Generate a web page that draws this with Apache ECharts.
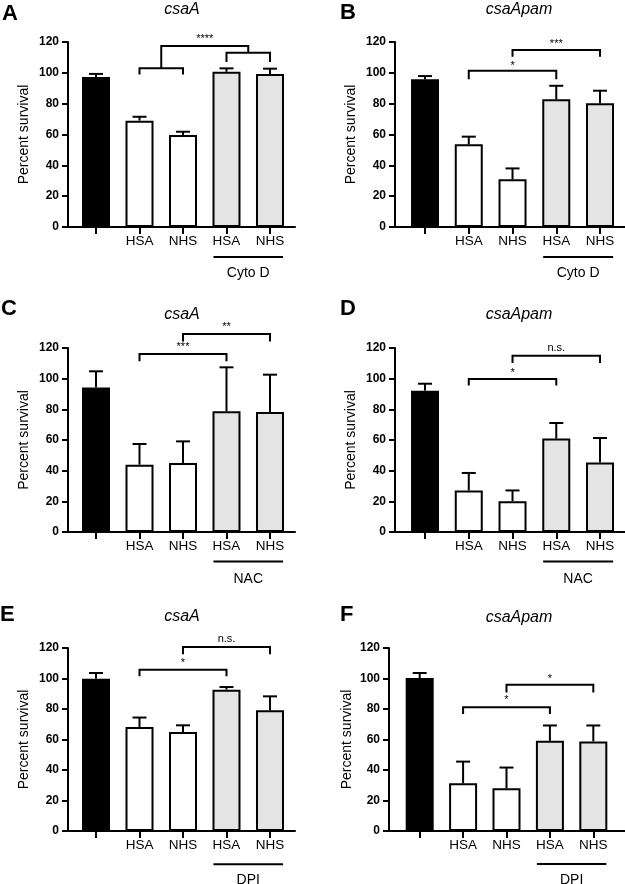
<!DOCTYPE html>
<html><head><meta charset="utf-8">
<script src="https://cdn.jsdelivr.net/npm/echarts@6/dist/echarts.min.js"></script>
<style>html,body{margin:0;padding:0;background:#fff}#c{width:625px;height:884px}</style>
</head><body><div id="c"></div>
<script>
// ---------- data ----------
const categories = ['', 'HSA', 'NHS', 'HSA', 'NHS'];
const catPositions = [0, 1, 2, 3, 4];
const yTicks = [0, 20, 40, 60, 80, 100, 120];
const panelLetters = ['A', 'B', 'C', 'D', 'E', 'F'];
const panelTitles = ['csaA', 'csaApam', 'csaA', 'csaApam', 'csaA', 'csaApam'];
const groupNames = ['Cyto D', 'Cyto D', 'NAC', 'NAC', 'DPI', 'DPI'];
const yAxisName = 'Percent survival';

const meansA = [97.3, 69.0, 59.7, 100.7, 99.2];
const errA   = [2.0, 2.5, 2.1, 2.2, 3.5];
const meansB = [95.8, 53.6, 30.9, 82.8, 80.2];
const errB   = [2.1, 5.0, 7.1, 8.8, 8.2];
const meansC = [94.3, 43.9, 45.0, 78.7, 78.3];
const errC   = [10.5, 13.5, 14.1, 28.7, 24.3];
const meansD = [92.2, 27.1, 20.0, 60.9, 45.4];
const errD   = [4.5, 11.4, 7.1, 10.2, 15.9];
const meansE = [99.9, 68.2, 64.9, 92.7, 79.1];
const errE   = [3.7, 6.2, 4.4, 1.7, 9.2];
const meansF = [100.3, 31.3, 28.0, 59.1, 58.7];
const errF   = [3.3, 14.2, 13.6, 10.1, 10.5];

// brackets: [x1, x2, yTop, yLeftEnd, yRightEnd]
const bracketsA = [[1, 2, 103, 99, 99], [3, 4, 113, 107, 107], [1.5, 3.5, 117.4, 103, 113]];
const bracketsB = [[1, 3, 101.4, 95.8, 95.8], [2, 4, 114.8, 110.4, 110.4]];
const bracketsC = [[1, 3, 116.1, 111.3, 111.3], [2, 4, 129.2, 124.3, 124.3]];
const bracketsD = [[1, 3, 99.8, 95.6, 95.6], [2, 4, 115, 110.2, 110.2]];
const bracketsE = [[1, 3, 105.8, 101.4, 101.4], [2, 4, 120.7, 115.9, 115.9]];
const bracketsF = [[1, 3, 81.2, 76.8, 76.8], [2, 4, 95.9, 90.8, 90.8]];

// significance labels: [x, y], text
const sigPosA = [[2.5, 123]];             const sigTextA = ['****'];
const sigPosB = [[2, 106], [3, 120]];     const sigTextB = ['*', '***'];
const sigPosC = [[2, 121.7], [3, 135.2]]; const sigTextC = ['***', '**'];
const sigPosD = [[2, 105.2], [3, 120]];   const sigTextD = ['*', 'n.s.'];
const sigPosE = [[2, 111.5], [3, 126.2]]; const sigTextE = ['*', 'n.s.'];
const sigPosF = [[2, 87.4], [3, 101.3]];  const sigTextF = ['*', '*'];

// group underline: [x1, x2, yLine, yText]
const groupA = [2.7, 4.3, -19.5, -29.8];
const groupB = [2.7, 4.3, -19.5, -29.8];
const groupC = [2.7, 4.3, -19.2, -31.0];
const groupD = [2.7, 4.3, -19.2, -31.0];
const groupE = [2.7, 4.3, -21.8, -32.3];
const groupF = [2.7, 4.3, -21.7, -32.0];

const allMeans = [meansA, meansB, meansC, meansD, meansE, meansF];
const allErr = [errA, errB, errC, errD, errE, errF];
const allBrackets = [bracketsA, bracketsB, bracketsC, bracketsD, bracketsE, bracketsF];
const allSigPos = [sigPosA, sigPosB, sigPosC, sigPosD, sigPosE, sigPosF];
const allSigText = [sigTextA, sigTextB, sigTextC, sigTextD, sigTextE, sigTextF];
const allGroups = [groupA, groupB, groupC, groupD, groupE, groupF];

// ---------- layout / style ----------
const FONT = '"Liberation Sans", Arial, Helvetica, sans-serif';
const grids = [
  {left: 68, top: 42, width: 227, height: 185},
  {left: 395, top: 42, width: 230, height: 185},
  {left: 68, top: 348, width: 227, height: 184},
  {left: 395, top: 348, width: 230, height: 184},
  {left: 68, top: 648, width: 227, height: 183},
  {left: 389, top: 648, width: 236, height: 183}
];
const xRanges = [[-0.644, 4.575], [-0.686, 4.571], [-0.644, 4.575], [-0.686, 4.571], [-0.644, 4.575], [-0.707, 4.73]];
const nameGaps = [37, 37, 37, 37, 37, 35];
const barColors = ['#000000', '#ffffff', '#ffffff', '#e4e4e4', '#e4e4e4'];
const letterPos = [[2, 14], [340, 13], [1, 309], [340, 309], [0, 615], [340, 615]];
const titlePos = [[182, 10], [519, 10], [182, 315], [519, 315], [182, 617], [519, 618]];

const xAxes = [], yAxes = [], series = [], graphics = [];
for (let i = 0; i < 6; i++) {
  xAxes.push({
    type: 'value', gridIndex: i, min: xRanges[i][0], max: xRanges[i][1],
    splitLine: {show: false},
    axisLine: {show: true, onZero: false, lineStyle: {color: '#000', width: 2}},
    axisTick: {show: true, customValues: catPositions, length: 7, lineStyle: {color: '#000', width: 2}},
    axisLabel: {customValues: catPositions, formatter: v => categories[Math.round(v)] || '',
      color: '#000', fontSize: 13.5, fontFamily: FONT, margin: 7}
  });
  yAxes.push({
    type: 'value', gridIndex: i, min: 0, max: 120, interval: 20,
    name: yAxisName, nameLocation: 'middle', nameGap: nameGaps[i], nameRotate: 90,
    nameTextStyle: {color: '#000', fontSize: 14, fontFamily: FONT},
    splitLine: {show: false},
    axisLine: {show: true, onZero: false, lineStyle: {color: '#000', width: 2}},
    axisTick: {show: true, length: 6, lineStyle: {color: '#000', width: 2}},
    axisLabel: {color: '#000', fontSize: 12, fontWeight: 'bold', fontFamily: FONT, margin: 9}
  });
  const means = allMeans[i], errs = allErr[i];
  series.push({
    type: 'bar', xAxisIndex: i, yAxisIndex: i, barWidth: 28,
    data: means.map((m, k) => ({value: [catPositions[k], m],
      itemStyle: {color: barColors[k], borderColor: '#000', borderWidth: 2}})),
    z: 2
  });
  series.push({
    type: 'custom', xAxisIndex: i, yAxisIndex: i, clip: false, z: 3,
    data: means.map((m, k) => [catPositions[k], m, errs[k]]),
    renderItem: (params, api) => {
      const x = api.value(0), m = api.value(1), e = api.value(2);
      const p0 = api.coord([x, m]), p1 = api.coord([x, m + e]);
      return {type: 'group', children: [
        {type: 'line', shape: {x1: p0[0], y1: p0[1], x2: p1[0], y2: p1[1]}, style: {stroke: '#000', lineWidth: 2}},
        {type: 'line', shape: {x1: p1[0] - 7, y1: p1[1], x2: p1[0] + 7, y2: p1[1]}, style: {stroke: '#000', lineWidth: 2}}
      ]};
    }
  });
  series.push({
    type: 'custom', xAxisIndex: i, yAxisIndex: i, clip: false, z: 3,
    data: allBrackets[i],
    renderItem: (params, api) => {
      const x1 = api.value(0), x2 = api.value(1), yt = api.value(2), yl = api.value(3), yr = api.value(4);
      const pts = [api.coord([x1, yl]), api.coord([x1, yt]), api.coord([x2, yt]), api.coord([x2, yr])];
      return {type: 'polyline', shape: {points: pts}, style: {stroke: '#000', lineWidth: 2, fill: null}};
    }
  });
  const texts = allSigText[i];
  series.push({
    type: 'custom', xAxisIndex: i, yAxisIndex: i, clip: false, z: 3,
    data: allSigPos[i],
    renderItem: (params, api) => {
      const p = api.coord([api.value(0), api.value(1)]);
      const t = texts[params.dataIndex];
      const star = t.charAt(0) === '*';
      return {type: 'text', x: p[0], y: p[1] + (star ? 2 : 0),
        style: {text: t, fill: '#000', font: '11px ' + FONT, align: 'center', verticalAlign: 'middle'}};
    }
  });
  const gname = groupNames[i];
  series.push({
    type: 'custom', xAxisIndex: i, yAxisIndex: i, clip: false, z: 3,
    data: [allGroups[i]],
    renderItem: (params, api) => {
      const x1 = api.value(0), x2 = api.value(1), yl = api.value(2), yt = api.value(3);
      const a = api.coord([x1, yl]), b = api.coord([x2, yl]), c = api.coord([(x1 + x2) / 2, yt]);
      return {type: 'group', children: [
        {type: 'line', shape: {x1: a[0], y1: a[1], x2: b[0], y2: b[1]}, style: {stroke: '#000', lineWidth: 2}},
        {type: 'text', x: c[0], y: c[1], style: {text: gname, fill: '#000', font: '14px ' + FONT, align: 'center', verticalAlign: 'middle'}}
      ]};
    }
  });
  graphics.push({type: 'text', x: letterPos[i][0], y: letterPos[i][1],
    style: {text: panelLetters[i], fill: '#000', font: 'bold 22px ' + FONT, textAlign: 'left', textVerticalAlign: 'middle'}});
  graphics.push({type: 'text', x: titlePos[i][0], y: titlePos[i][1],
    style: {text: panelTitles[i], fill: '#000', font: 'italic 16px ' + FONT, textAlign: 'center', textVerticalAlign: 'middle'}});
}

const chart = echarts.init(document.getElementById('c'), null, {renderer: 'canvas'});
chart.setOption({
  animation: false,
  backgroundColor: '#fff',
  grid: grids,
  xAxis: xAxes,
  yAxis: yAxes,
  series: series,
  graphic: graphics
});
</script>
</body></html>
